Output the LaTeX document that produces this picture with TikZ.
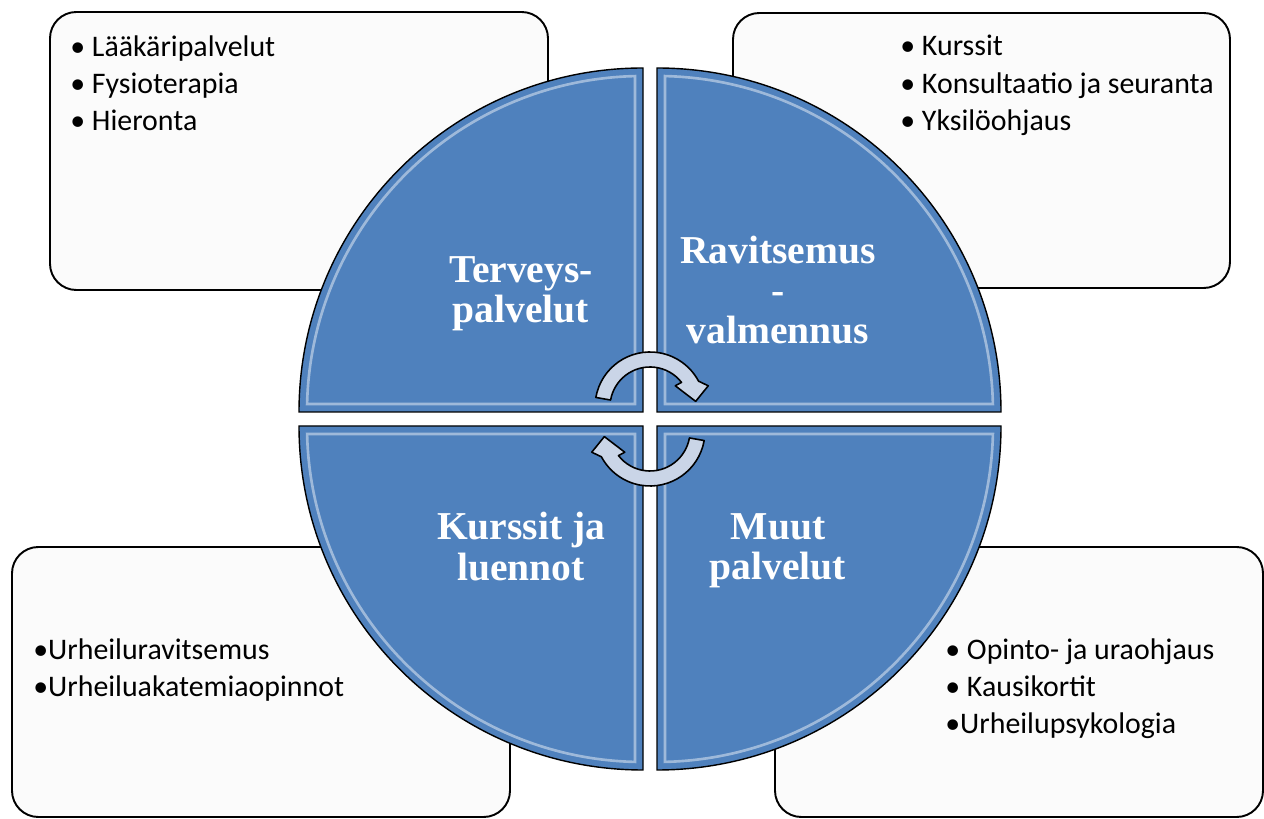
\documentclass[tikz,border=0pt]{standalone}
\usepackage{fontspec}
\setmainfont{Carlito}
\newfontfamily\quadfont{Liberation Serif}
\definecolor{quadblue}{HTML}{4F81BD}
\definecolor{boxfill}{HTML}{FBFBFB}
\definecolor{arrowfill}{HTML}{CAD5E7}

\begin{document}
\begin{tikzpicture}[x=0.02cm,y=0.02cm,
    listbox/.style={draw=black,line width=1.1pt,fill=boxfill,rounded corners=15pt},
    listtext/.style={anchor=north west,inner sep=0pt,align=left,text=black,
        font=\fontsize{17}{21.3}\selectfont},
    quadlabel/.style={text=white,align=center,inner sep=0pt,
        font=\quadfont\bfseries\fontsize{22.5}{22.8}\selectfont},
    cycarrow/.style={draw=black,line width=0.9pt,fill=arrowfill,line join=round}]
    \useasboundingbox (0,0) rectangle (1264,818);

    % boxes behind the wheel
    \path[listbox] (50,528) rectangle (548,806);
    \path[listbox] (733,530) rectangle (1230,805);
    \path[listbox] (12,1) rectangle (510,271);
    \path[listbox] (775,1) rectangle (1263,271);

    \node[listtext] (lista) at (70,783) {• Lääkäripalvelut\\• Fysioterapia\\• Hieronta};
    \node[listtext] (listb) at (900,783) {• Kurssit\\• Konsultaatio ja seuranta\\• Yksilöohjaus};
    \node[listtext] (listc) at (33,180) {•Urheiluravitsemus\\•Urheiluakatemiaopinnot};
    \node[listtext] (listd) at (945,180) {• Opinto- ja uraohjaus\\• Kausikortit\\•Urheilupsykologia};

    % the four quarters
    \foreach \rot in {0,-90,90,180} {
        \path[fill=quadblue,draw=black,line width=0.8pt,shift={(650,399)},rotate=\rot]
            (-7,7) -- (-7,351) arc[start angle=90,end angle=180,radius=344] -- cycle;
        \path[draw=white,opacity=0.45,line width=1.5pt,shift={(650,399)},rotate=\rot]
            (-15,15) -- (-15,342.9) arc[start angle=91.36,end angle=178.64,radius=336] -- cycle;
    }

    \node[quadlabel] (terveys) at (521,524.5) {Terveys-\\palvelut};
    \node[quadlabel] (ravitsemus) at (778,528) {Ravitsemus\\-\\valmennus};
    \node[quadlabel] (kurssit) at (521,271.5) {Kurssit ja\\luennot};
    \node[quadlabel] (muut) at (778,267.5) {Muut\\palvelut};

    % circular arrows
    \foreach \cy/\rot in {411/0,387/180}
        \path[cycarrow,shift={(650,\cy)},rotate=\rot]
            (170:55) arc[start angle=170,end angle=28,radius=55] -- (20:62) -- (7:46)
            -- (40:33) -- (38:40) arc[start angle=38,end angle=170,radius=40] -- cycle;
\end{tikzpicture}
\end{document}
